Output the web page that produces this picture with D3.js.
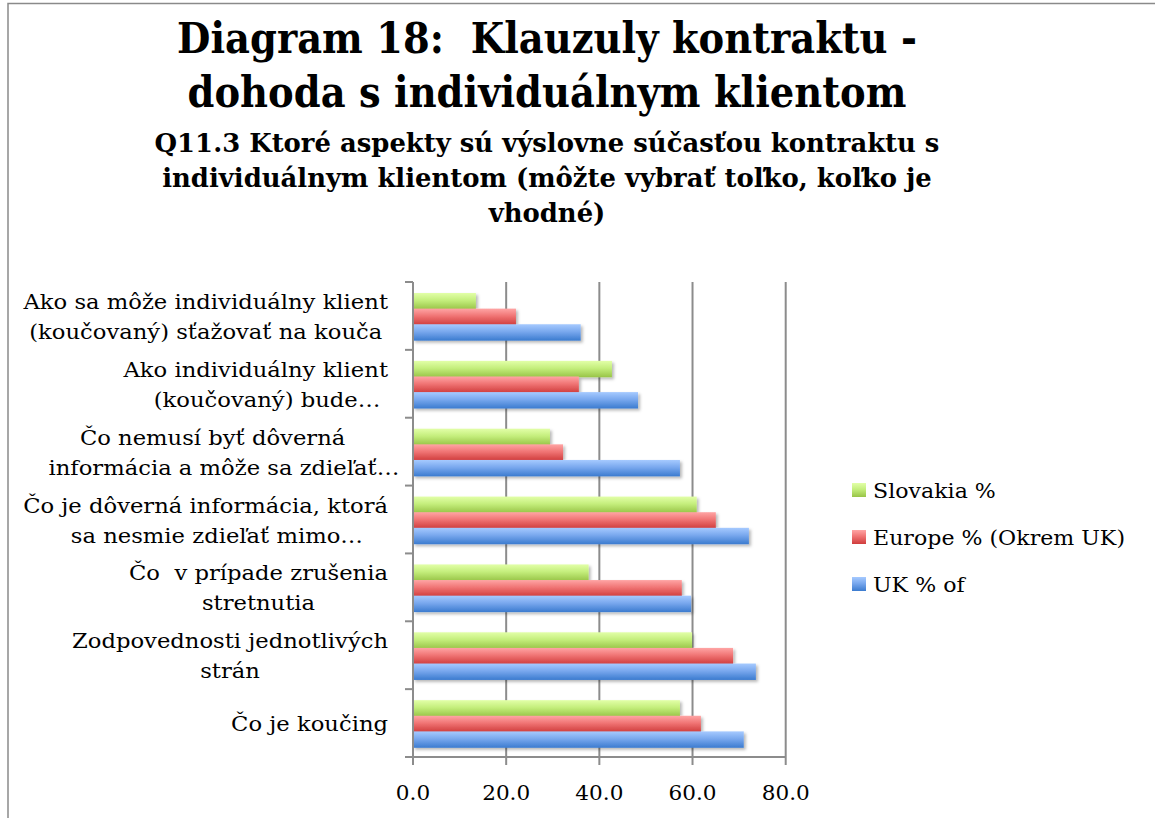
<!DOCTYPE html>
<html><head><meta charset="utf-8">
<script src="https://cdn.jsdelivr.net/npm/d3@7"></script>
<style>body{margin:0;background:#fff} svg{display:block}</style>
</head><body><svg id="c" width="1155" height="818"></svg>
<script>
// ---- data ----
const categories = [
  ["Ako sa môže individuálny klient", "(koučovaný) sťažovať na kouča"],
  ["Ako individuálny klient", "(koučovaný) bude…"],
  ["Čo nemusí byť dôverná", "informácia a môže sa zdieľať…"],
  ["Čo je dôverná informácia, ktorá", "sa nesmie zdieľať mimo…"],
  ["Čo  v prípade zrušenia", "stretnutia"],
  ["Zodpovednosti jednotlivých", "strán"],
  ["Čo je koučing"]
];
const seriesNames = ["Slovakia %", "Europe % (Okrem UK)", "UK % of"];
const slovakia = [13.5, 42.7, 29.4, 60.9, 37.7, 59.9, 57.3];
const europe   = [22.1, 35.6, 32.2, 65.0, 57.7, 68.7, 61.8];
const uk       = [36.0, 48.3, 57.3, 72.1, 59.7, 73.6, 71.0];
const xTicks = [0, 20, 40, 60, 80];
const titleLines = ["Diagram 18:  Klauzuly kontraktu -", "dohoda s individuálnym klientom"];
const subtitleLines = ["Q11.3 Ktoré aspekty sú výslovne súčasťou kontraktu s",
                       "individuálnym klientom (môžte vybrať toľko, koľko je",
                       "vhodné)"];

// ---- setup ----
const svg = d3.select("#c");
const FONT = "'DejaVu Serif', 'Liberation Serif', serif";
const values = [slovakia, europe, uk];
const gradStops = [
  ["#e2ffa8", "#c4ee7c", "#98c447"],
  ["#ffa5a5", "#f07474", "#cf3c3c"],
  ["#a6caff", "#79a8ee", "#3b7bcf"]
];

function measure(txt, size, weight) {
  const t = svg.append("text").attr("font-family", FONT).attr("font-size", size)
    .attr("font-weight", weight).style("white-space", "pre").text(txt);
  const w = t.node().getComputedTextLength();
  t.remove();
  return w;
}
function put(txt, px, py, size, weight, anchor, k) {
  return svg.append("text").attr("transform", `translate(${px},${py}) scale(${k},1)`)
    .attr("text-anchor", anchor).attr("font-family", FONT).attr("font-size", size)
    .attr("font-weight", weight).style("white-space", "pre").text(txt);
}

const defs = svg.append("defs");
gradStops.forEach((s, i) => {
  const g = defs.append("linearGradient").attr("id", "g" + i)
    .attr("x1", 0).attr("y1", 0).attr("x2", 0).attr("y2", 1);
  g.append("stop").attr("offset", "0%").attr("stop-color", s[0]);
  g.append("stop").attr("offset", "45%").attr("stop-color", s[1]);
  g.append("stop").attr("offset", "100%").attr("stop-color", s[2]);
});
const f = defs.append("filter").attr("id", "sh").attr("x", "-5%").attr("y", "-30%")
  .attr("width", "115%").attr("height", "180%");
f.append("feDropShadow").attr("dx", 2).attr("dy", 2).attr("stdDeviation", 1.8)
  .attr("flood-color", "#000").attr("flood-opacity", 0.28);

// frame
svg.append("path").attr("d", "M8,818 V3.5 H1155").attr("fill", "none")
  .attr("stroke", "#8a8a8a").attr("stroke-width", 1.5);

// titles
const cx = 547;
const tSize = 42.5, tK = 740 / measure(titleLines[0], tSize, "bold");
titleLines.forEach((l, i) => put(l, cx, 53 + i * 54, tSize, "bold", "middle", tK));
const sSize = 26, sK = 785 / measure(subtitleLines[0], sSize, "bold");
subtitleLines.forEach((l, i) => put(l, cx, 152 + i * 35, sSize, "bold", "middle", sK));

// scales
const x0 = 413, x1 = 785.7, yTop = 282, yBot = 757;
const x = d3.scaleLinear().domain([0, 80]).range([x0, x1]);
const y = d3.scaleBand().domain(d3.range(categories.length)).range([yTop, yBot]);
const bw = y.bandwidth();
const ys = d3.scaleBand().domain(d3.range(3)).range([11, bw - 10]);

// gridlines
svg.append("g").selectAll("line").data(xTicks.slice(1)).join("line")
  .attr("x1", d => x(d)).attr("x2", d => x(d)).attr("y1", yTop).attr("y2", yBot)
  .attr("stroke", "#8c8c8c").attr("stroke-width", 2);

// bars
const bars = svg.append("g").attr("filter", "url(#sh)");
categories.forEach((c, ci) => {
  [0, 1, 2].forEach(si => {
    bars.append("rect").attr("x", x(0)).attr("y", y(ci) + ys(si))
      .attr("width", x(values[si][ci]) - x(0)).attr("height", ys.bandwidth() + 0.8)
      .attr("fill", `url(#g${si})`);
  });
});

// axes
const axisCol = "#8c8c8c";
svg.append("line").attr("x1", x0).attr("x2", x0).attr("y1", yTop).attr("y2", yBot + 8)
  .attr("stroke", axisCol).attr("stroke-width", 2);
svg.append("line").attr("x1", x0 - 8).attr("x2", x1).attr("y1", yBot).attr("y2", yBot)
  .attr("stroke", axisCol).attr("stroke-width", 2);
const bounds = d3.range(categories.length + 1).map(i => yTop + i * bw);
svg.append("g").selectAll("line").data(bounds).join("line")
  .attr("x1", x0 - 8).attr("x2", x0).attr("y1", d => d).attr("y2", d => d)
  .attr("stroke", axisCol).attr("stroke-width", 2);
svg.append("g").selectAll("line").data(xTicks).join("line")
  .attr("x1", d => x(d)).attr("x2", d => x(d)).attr("y1", yBot).attr("y2", yBot + 8)
  .attr("stroke", axisCol).attr("stroke-width", 2);

const nSize = 20.6, nK = 48 / measure("20.0", nSize, "normal");
xTicks.forEach(d => put(d3.format(".1f")(d), x(d), 800, nSize, "normal", "middle", nK));

// category labels
const lSize = 20.6, lK = 316 / measure("Zodpovednosti jednotlivých", lSize, "normal");
const ellW = measure("…", lSize, "normal") * lK;
const rightEdge = 388, lineH = 30;
categories.forEach((lines, ci) => {
  const widths = lines.map(l => measure(l, lSize, "normal") * lK);
  const maxW = d3.max(widths);
  const center = rightEdge - maxW / 2;
  const cy = y(ci) + bw / 2 + 8;
  const n = lines.length;
  lines.forEach((l, li) => {
    const shift = l.endsWith("…") ? ellW / 2 : 0;
    put(l, center + shift, cy + (li - (n - 1) / 2) * lineH, lSize, "normal", "middle", lK);
  });
});

// legend
const gSize = 20.6, gK = 252 / measure("Europe % (Okrem UK)", gSize, "normal");
seriesNames.forEach((s, i) => {
  const ly = 483 + i * 47;
  svg.append("rect").attr("x", 852).attr("y", ly).attr("width", 14).attr("height", 14)
    .attr("fill", `url(#g${i})`);
  put(s, 873, ly + 15, gSize, "normal", "start", gK);
});
</script></body></html>
